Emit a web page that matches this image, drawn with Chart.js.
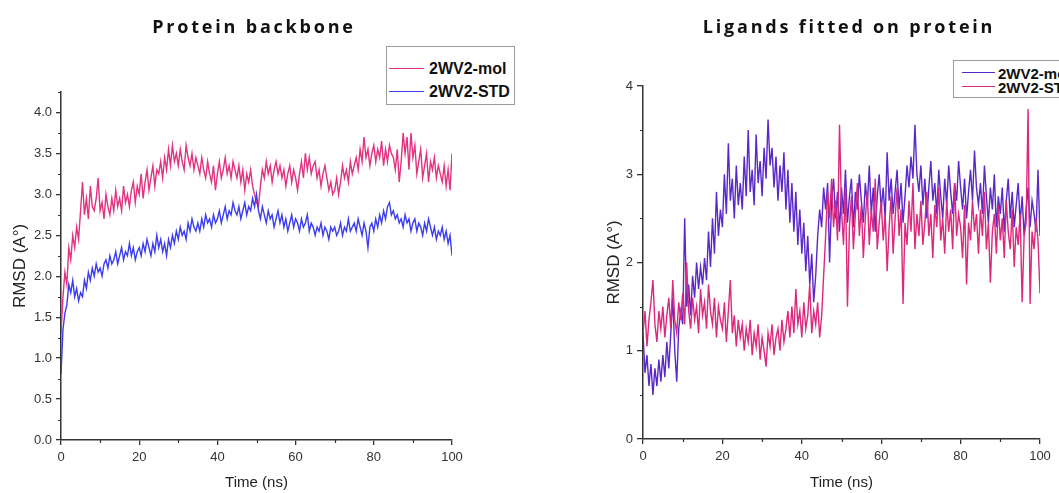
<!DOCTYPE html>
<html><head><meta charset="utf-8">
<script src="https://cdn.jsdelivr.net/npm/chart.js@4.4.1/dist/chart.umd.min.js"></script>
<style>
html,body{margin:0;padding:0;background:#fff;}
body{width:1059px;height:493px;overflow:hidden;position:relative;font-family:"Liberation Sans",Arial,sans-serif;}
canvas{position:absolute;top:0;}
.title{position:absolute;top:14px;font-family:"Open Sans",sans-serif;font-weight:700;font-size:18px;line-height:24px;letter-spacing:2.8px;color:#111;white-space:nowrap;transform:translateX(-50%);}
.lbox{position:absolute;border:1px solid #9c9c9c;background:#fff;box-sizing:border-box;}
.sw{position:absolute;height:0;border-top:1.5px solid;}
.lt{position:absolute;font-weight:700;color:#111;white-space:nowrap;}
</style></head>
<body>
<canvas id="c1" width="530" height="493" style="left:0"></canvas>
<canvas id="c2" width="529" height="493" style="left:530px"></canvas>
<div class="title" style="left:254px">Protein backbone</div>
<div class="title" style="left:849px">Ligands fitted on protein</div>

<div class="lbox" style="left:386px;top:46px;width:129px;height:59px"></div>
<div class="sw" style="left:389px;top:68px;width:35px;border-color:#e23280"></div>
<div class="lt" style="left:429px;top:60px;font-size:16px;line-height:18px">2WV2-mol</div>
<div class="sw" style="left:389px;top:91px;width:35px;border-color:#3c3cf0"></div>
<div class="lt" style="left:429px;top:83px;font-size:16px;line-height:18px">2WV2-STD</div>

<div class="lbox" style="left:953px;top:60px;width:140px;height:38px"></div>
<div class="sw" style="left:962px;top:72px;width:33px;border-color:#5a28c8"></div>
<div class="lt" style="left:998px;top:65px;font-size:15px;line-height:17px">2WV2-mol</div>
<div class="sw" style="left:962px;top:86px;width:33px;border-color:#dc287d"></div>
<div class="lt" style="left:998px;top:79px;font-size:15px;line-height:17px">2WV2-STD</div>

<script>
const TIME_STEP = 0.5; // ns between samples

const backboneMol = [
1.30,1.75,2.05,1.90,2.35,2.20,2.50,2.35,2.60,2.45,
2.80,3.15,2.75,2.95,2.70,3.10,2.85,2.80,2.95,3.20,
2.80,2.90,2.70,3.00,2.85,2.75,2.95,2.80,3.05,2.85,
2.95,2.80,3.10,2.90,3.00,2.85,3.05,3.15,2.90,3.10,
3.00,3.25,2.95,3.15,3.30,3.05,3.20,3.35,3.10,3.30,
3.25,3.40,3.20,3.45,3.30,3.55,3.35,3.60,3.40,3.50,
3.35,3.55,3.40,3.30,3.60,3.45,3.35,3.50,3.30,3.45,
3.35,3.25,3.45,3.30,3.20,3.40,3.25,3.15,3.35,3.05,
3.25,3.40,3.20,3.30,3.45,3.25,3.35,3.20,3.40,3.30,
3.20,3.35,3.15,3.30,3.05,3.25,3.15,3.30,3.10,3.00,
2.90,2.85,3.10,3.30,3.20,3.40,3.25,3.35,3.15,3.30,
3.40,3.25,3.35,3.20,3.30,3.10,3.25,3.35,3.15,3.30,
3.20,3.05,3.25,3.40,3.20,3.50,3.30,3.45,3.25,3.35,
3.40,3.20,3.30,3.10,3.25,3.35,3.20,3.05,3.15,3.00,
3.05,3.20,3.00,3.15,3.35,3.20,3.30,3.15,3.40,3.25,
3.35,3.45,3.30,3.55,3.40,3.70,3.45,3.55,3.35,3.50,
3.60,3.40,3.55,3.45,3.65,3.35,3.55,3.40,3.60,3.50,
3.45,3.30,3.55,3.15,3.40,3.75,3.50,3.70,3.30,3.75,
3.45,3.60,3.25,3.40,3.55,3.20,3.35,3.50,3.15,3.40,
3.30,3.45,3.20,3.35,3.25,3.15,3.35,3.10,3.30,3.05,
3.50];

const backboneStd = [
0.80,1.35,1.55,1.65,1.90,1.80,1.95,1.75,1.85,1.70,
1.80,1.75,1.95,1.85,2.05,1.95,2.10,2.00,2.15,2.05,
2.10,2.00,2.15,2.20,2.10,2.25,2.15,2.20,2.30,2.15,
2.25,2.35,2.20,2.30,2.25,2.40,2.25,2.35,2.20,2.30,
2.35,2.25,2.40,2.30,2.45,2.35,2.25,2.40,2.30,2.50,
2.35,2.45,2.30,2.40,2.25,2.45,2.35,2.50,2.40,2.55,
2.45,2.60,2.50,2.55,2.45,2.65,2.55,2.70,2.60,2.55,
2.65,2.55,2.70,2.60,2.75,2.65,2.70,2.60,2.75,2.65,
2.70,2.80,2.65,2.75,2.85,2.70,2.80,2.75,2.90,2.80,
2.75,2.85,2.70,2.80,2.90,2.75,2.85,2.80,2.95,2.85,
3.00,2.80,2.70,2.85,2.75,2.65,2.80,2.70,2.75,2.60,
2.70,2.80,2.65,2.75,2.60,2.70,2.55,2.65,2.75,2.60,
2.70,2.65,2.55,2.70,2.60,2.65,2.75,2.55,2.65,2.60,
2.50,2.60,2.55,2.65,2.50,2.60,2.55,2.45,2.60,2.55,
2.60,2.50,2.55,2.65,2.50,2.60,2.55,2.70,2.55,2.60,
2.65,2.55,2.70,2.60,2.50,2.65,2.55,2.35,2.60,2.65,
2.55,2.70,2.60,2.75,2.65,2.80,2.70,2.85,2.90,2.75,
2.80,2.70,2.75,2.65,2.70,2.60,2.75,2.65,2.70,2.55,
2.65,2.70,2.55,2.65,2.60,2.50,2.65,2.55,2.70,2.60,
2.50,2.60,2.45,2.55,2.50,2.60,2.45,2.55,2.40,2.50,
2.25];

const ligandMol = [
1.20,0.75,0.95,0.60,0.85,0.50,0.80,0.60,0.90,0.65,
0.95,0.70,1.10,0.80,1.20,1.60,1.00,0.65,1.25,1.45,
1.30,2.50,1.50,1.75,1.40,1.85,1.60,2.00,1.70,1.95,
1.75,2.05,1.80,2.35,1.95,2.50,2.10,2.80,2.30,2.60,
2.40,3.00,2.55,3.35,2.70,2.95,2.50,3.10,2.65,2.90,
2.60,3.20,2.75,3.50,2.80,3.05,2.65,3.45,2.90,3.15,
2.75,3.30,2.95,3.62,3.10,3.30,2.85,3.20,2.70,3.10,
2.80,3.25,2.60,3.05,2.45,2.90,2.35,2.80,2.20,2.60,
2.10,2.45,1.90,2.30,1.75,2.10,1.55,1.85,2.30,2.60,
2.40,2.85,2.60,2.90,2.00,2.70,2.95,2.50,2.80,2.35,
2.85,2.55,3.05,2.45,2.75,2.95,2.40,2.80,2.60,3.00,
2.70,2.45,2.90,2.65,3.10,2.55,2.85,2.35,2.75,3.00,
2.60,2.85,2.50,3.25,2.70,2.95,2.55,2.80,3.05,2.60,
2.90,2.45,2.75,3.10,2.85,3.20,2.95,3.56,3.00,2.80,
3.10,2.65,2.95,2.50,2.85,3.15,2.70,2.90,2.55,3.05,
2.75,2.50,2.95,2.65,3.10,2.80,2.55,2.90,2.70,3.15,
2.85,2.60,2.95,2.50,2.80,3.05,2.70,3.27,2.85,2.65,
2.90,2.55,3.10,2.75,2.45,2.85,2.60,3.00,2.40,2.75,
2.55,2.85,2.35,2.70,2.95,2.50,2.80,2.40,2.65,2.90,
2.45,2.75,2.30,2.60,2.85,2.40,2.70,2.55,2.35,3.05,
2.30];

const ligandStd = [
1.20,1.45,1.05,1.35,1.55,1.80,1.30,1.10,1.45,1.25,
1.50,1.15,1.40,1.60,1.25,1.80,1.35,1.20,1.55,1.35,
1.65,1.30,2.00,1.45,1.25,1.60,1.35,1.50,1.20,1.70,
1.40,1.55,1.25,1.75,1.45,1.30,1.60,1.15,1.50,1.35,
1.25,1.55,1.10,1.45,1.80,1.20,1.40,1.05,1.35,1.15,
1.30,1.00,1.25,1.10,1.35,0.95,1.20,1.05,1.30,0.90,
1.15,1.00,0.82,1.20,1.05,1.30,0.95,1.15,1.25,1.00,
1.35,1.10,1.25,1.45,1.15,1.50,1.20,1.70,1.30,1.45,
1.15,1.55,1.25,1.40,1.75,1.20,1.45,1.30,1.55,1.15,
1.40,1.85,2.30,2.80,2.50,2.95,2.40,2.70,2.25,3.56,
2.60,2.20,2.85,1.50,2.40,2.75,2.15,2.55,2.90,2.30,
2.65,2.05,2.50,2.80,2.20,2.60,2.35,2.95,2.15,2.45,
2.70,2.25,2.55,1.90,2.40,2.75,2.10,2.50,2.85,2.30,
2.60,1.53,2.45,2.20,2.70,2.35,2.90,2.15,2.55,2.30,
2.70,2.20,2.45,2.80,2.30,2.55,2.05,2.65,2.40,2.85,
2.25,2.50,2.10,2.70,2.35,2.60,2.15,2.90,2.30,2.55,
2.40,2.05,2.65,1.75,2.45,2.25,2.70,2.35,2.55,2.10,
2.60,2.30,2.80,2.15,2.45,1.77,2.35,2.55,2.10,2.65,
2.25,2.50,2.05,2.70,2.35,2.15,2.60,1.95,2.40,2.20,
2.55,1.55,2.30,2.45,3.74,1.53,2.35,2.15,2.50,2.25,
1.65];

const xMajorTicks = [0, 20, 40, 60, 80, 100];
const xMinorTicks = [10, 30, 50, 70, 90];
const leftYMajorTicks = [0, 0.5, 1.0, 1.5, 2.0, 2.5, 3.0, 3.5, 4.0];
const leftYMinorTicks = [0.25, 0.75, 1.25, 1.75, 2.25, 2.75, 3.25, 3.75, 4.25];
const rightYMajorTicks = [0, 1, 2, 3, 4];
const rightYMinorTicks = [0.5, 1.5, 2.5, 3.5];

const AXIS = '#333';
const FONT = '"Liberation Sans", Arial, sans-serif';

const minorTickPlugin = {
  id: 'minorTicks',
  afterDraw(chart, args, o) {
    const ctx = chart.ctx, ca = chart.chartArea;
    const xs = chart.scales.x, ys = chart.scales.y;
    ctx.save();
    ctx.strokeStyle = AXIS;
    ctx.lineWidth = 1.2;
    ctx.beginPath();
    (o.x || []).forEach(v => {
      const px = Math.round(xs.getPixelForValue(v)) + 0.5;
      ctx.moveTo(px, ca.bottom); ctx.lineTo(px, ca.bottom + 3);
    });
    (o.y || []).forEach(v => {
      const py = Math.round(ys.getPixelForValue(v)) + 0.5;
      ctx.moveTo(ca.left - 3, py); ctx.lineTo(ca.left, py);
    });
    ctx.stroke();
    ctx.restore();
  }
};

function toPoints(values) {
  return values.map((v, i) => ({x: i * TIME_STEP, y: v}));
}

function buildChart(id, series, cfg) {
  return new Chart(document.getElementById(id), {
    type: 'line',
    data: {
      datasets: series.map(s => ({
        label: s.label, data: toPoints(s.values), borderColor: s.color,
        borderWidth: 1.4, pointRadius: 0, tension: 0, fill: false, order: s.order
      }))
    },
    options: {
      responsive: false, animation: false, events: [],
      layout: {padding: {left: 0, top: cfg.top, right: cfg.right, bottom: 0}},
      plugins: {
        legend: {display: false}, tooltip: {enabled: false},
        minorTicks: {x: xMinorTicks, y: cfg.yMinor}
      },
      scales: {
        x: {
          type: 'linear', min: 0, max: 100,
          afterBuildTicks: s => { s.ticks = xMajorTicks.map(v => ({value: v})); },
          afterFit: s => { s.height = cfg.xh; },
          ticks: {color: AXIS, font: {size: 13, family: FONT}, padding: 5, maxRotation: 0, autoSkip: false},
          grid: {display: true, drawOnChartArea: false, drawTicks: true, tickLength: 5, color: AXIS, lineWidth: 1.3},
          border: {display: true, color: AXIS, width: 1.5},
          title: {display: true, text: 'Time (ns)', color: '#222', font: {size: 15, family: FONT}, padding: {top: 0, bottom: 1}}
        },
        y: {
          type: 'linear', min: 0, max: cfg.yMax,
          afterBuildTicks: s => { s.ticks = cfg.yMajor.map(v => ({value: v})); },
          afterFit: s => { s.width = cfg.yw; },
          ticks: {color: AXIS, font: {size: 13, family: FONT}, padding: 4, callback: cfg.yFmt},
          grid: {display: true, drawOnChartArea: false, drawTicks: true, tickLength: cfg.ytl, color: AXIS, lineWidth: 1.3},
          border: {display: true, color: AXIS, width: 1.5},
          title: {display: true, text: 'RMSD (A°)', color: '#222', font: {size: 17, family: FONT}, padding: {top: cfg.ytitlePad, bottom: 0}}
        }
      }
    },
    plugins: [minorTickPlugin]
  });
}

buildChart('c1', [
  {label: '2WV2-mol', values: backboneMol, color: '#e23280', order: 1},
  {label: '2WV2-STD', values: backboneStd, color: '#3c3cf0', order: 0}
], {top: 92, right: 78, xh: 53, yw: 61, yMax: 4.25, yMajor: leftYMajorTicks, yMinor: leftYMinorTicks,
    yFmt: v => Number(v).toFixed(1), ytl: 5, ytitlePad: 10});

buildChart('c2', [
  {label: '2WV2-mol', values: ligandMol, color: '#5a28c8', order: 1},
  {label: '2WV2-STD', values: ligandStd, color: '#dc287d', order: 0}
], {top: 86, right: 19, xh: 54, yw: 113, yMax: 4, yMajor: rightYMajorTicks, yMinor: rightYMinorTicks,
    yFmt: v => String(v), ytl: 6, ytitlePad: 74});
</script>
</body></html>
